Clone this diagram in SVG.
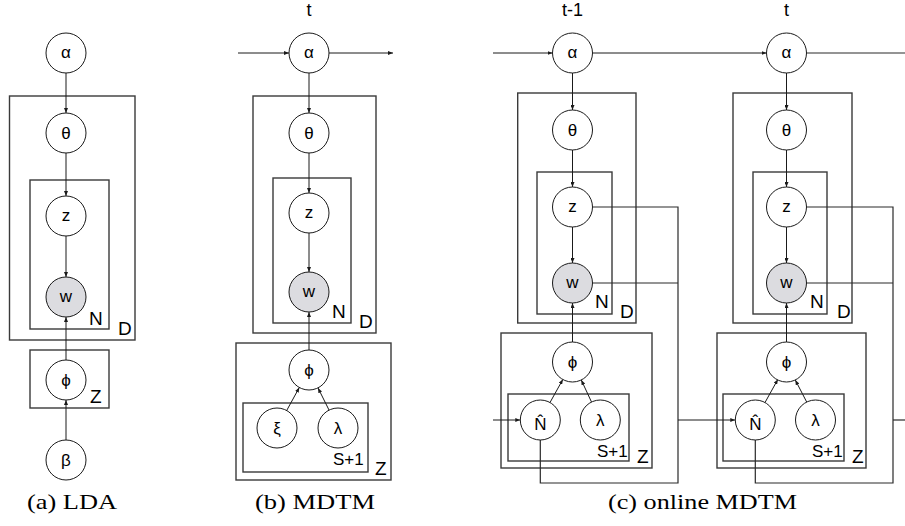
<svg xmlns="http://www.w3.org/2000/svg" width="905" height="526" viewBox="0 0 905 526">
<defs>
<style>
.bg{fill:#fff}
.plate{fill:none;stroke:#3a3a3a;stroke-width:1.4}
.node circle{fill:#fff;stroke:#1a1a1a;stroke-width:1}
.node.obs circle{fill:#dcdce0}
.node text{font-family:"Liberation Sans","DejaVu Sans",sans-serif;font-size:17px;text-anchor:middle;fill:#000}
.lbl{font-family:"Liberation Sans",Arial,sans-serif;font-size:19px;fill:#000}
.lbs{font-family:"Liberation Sans",Arial,sans-serif;font-size:17px;fill:#000}
.top{font-family:"Liberation Sans",Arial,sans-serif;font-size:18px;text-anchor:middle;fill:#000}
.cap{font-family:"Liberation Serif","Times New Roman",serif;font-size:22px;fill:#000}
.e{fill:none;stroke:#1a1a1a;stroke-width:1;marker-end:url(#ah)}
.l{fill:none;stroke:#2a2a2a;stroke-width:1.2}
</style>
<marker id="ah" viewBox="0 0 10 8" refX="10" refY="4" markerWidth="5" markerHeight="4" markerUnits="userSpaceOnUse" orient="auto">
<path d="M0,0 L10,4 L0,8 z" fill="#1a1a1a"/>
</marker>
</defs>
<rect class="bg" x="0" y="0" width="905" height="526"/>

<g id="plates">
<rect class="plate" x="9.5" y="96" width="125.5" height="244"/>
<rect class="plate" x="30" y="180" width="79" height="149"/>
<rect class="plate" x="30" y="350" width="79" height="58"/>
<rect class="plate" x="253" y="96" width="123" height="237"/>
<rect class="plate" x="273" y="178" width="78" height="145"/>
<rect class="plate" x="236" y="343" width="155" height="137"/>
<rect class="plate" x="243" y="403" width="125" height="69"/>
<rect class="plate" x="517.7" y="93" width="118.3" height="230"/>
<rect class="plate" x="537" y="172" width="75" height="142"/>
<rect class="plate" x="501" y="333" width="151" height="135"/>
<rect class="plate" x="508" y="394" width="121" height="67"/>
<rect class="plate" x="733" y="93" width="119" height="230"/>
<rect class="plate" x="753" y="172" width="74" height="142"/>
<rect class="plate" x="717" y="333" width="149" height="135"/>
<rect class="plate" x="723" y="394" width="121" height="67"/>
</g>

<g id="plate-labels">
<text class="lbl" x="89" y="325">N</text>
<text class="lbl" x="118" y="335">D</text>
<text class="lbl" x="90" y="403">Z</text>
<text class="lbl" x="332" y="318">N</text>
<text class="lbl" x="359" y="328">D</text>
<text class="lbs" x="333" y="465">S+1</text>
<text class="lbl" x="375" y="475">Z</text>
<text class="lbl" x="595" y="308">N</text>
<text class="lbl" x="620" y="318">D</text>
<text class="lbs" x="597" y="457">S+1</text>
<text class="lbl" x="637" y="463">Z</text>
<text class="lbl" x="810" y="308">N</text>
<text class="lbl" x="837" y="318">D</text>
<text class="lbs" x="812" y="457">S+1</text>
<text class="lbl" x="852" y="463">Z</text>
<text class="top" x="309" y="16">t</text>
<text class="top" x="572.5" y="16">t-1</text>
<text class="top" x="786.5" y="16">t</text>
</g>

<g id="connectors">
<line class="e" x1="66" y1="73" x2="66" y2="113"/>
<line class="e" x1="66" y1="153" x2="66" y2="196"/>
<line class="e" x1="66" y1="236" x2="66" y2="277"/>
<line class="e" x1="66" y1="360" x2="66" y2="317"/>
<line class="e" x1="66" y1="440" x2="66" y2="400"/>
<line class="e" x1="238" y1="53" x2="289" y2="53"/>
<line class="e" x1="329" y1="53" x2="393" y2="53"/>
<line class="e" x1="309" y1="73" x2="309" y2="113"/>
<line class="e" x1="309" y1="153" x2="309" y2="193"/>
<line class="e" x1="309" y1="233" x2="309" y2="272"/>
<line class="e" x1="309" y1="350" x2="309" y2="312"/>
<line class="e" x1="286.7" y1="410.5" x2="299.3" y2="387.5"/>
<line class="e" x1="329" y1="410" x2="318" y2="387.9"/>
<line class="e" x1="493" y1="53" x2="552.5" y2="53"/>
<line class="e" x1="592.5" y1="53" x2="766.5" y2="53"/>
<line class="e" x1="572.5" y1="73" x2="572.5" y2="110"/>
<line class="e" x1="572.5" y1="150" x2="572.5" y2="187"/>
<line class="e" x1="572.5" y1="227" x2="572.5" y2="263"/>
<line class="e" x1="572.5" y1="342" x2="572.5" y2="303"/>
<line class="e" x1="550" y1="402.5" x2="562.8" y2="379.5"/>
<line class="e" x1="591.5" y1="402" x2="581.3" y2="380"/>
<line class="e" x1="493" y1="420" x2="520.3" y2="420"/>
<polyline class="l" points="592.5,207 678,207 678,483 540.3,483 540.3,440"/>
<line class="l" x1="592.5" y1="283" x2="678" y2="283"/>
<line class="e" x1="678" y1="420" x2="735.3" y2="420"/>
<line class="l" x1="806.5" y1="53" x2="905" y2="53"/>
<line class="e" x1="786.5" y1="73" x2="786.5" y2="110"/>
<line class="e" x1="786.5" y1="150" x2="786.5" y2="187"/>
<line class="e" x1="786.5" y1="227" x2="786.5" y2="263"/>
<line class="e" x1="786.5" y1="342" x2="786.5" y2="303"/>
<line class="e" x1="765" y1="402.5" x2="777.8" y2="379.5"/>
<line class="e" x1="806.7" y1="402" x2="795.3" y2="380"/>
<polyline class="l" points="806.5,207 893,207 893,483 755.3,483 755.3,440"/>
<line class="l" x1="806.5" y1="283" x2="893" y2="283"/>
<line class="l" x1="893" y1="420" x2="905" y2="420"/>
</g>

<g id="a-alpha" class="node"><circle cx="66" cy="53" r="20"/><text x="66" y="58">α</text></g>
<g id="a-theta" class="node"><circle cx="66" cy="133" r="20"/><text x="66" y="139">θ</text></g>
<g id="a-z" class="node"><circle cx="66" cy="216" r="20"/><text x="66" y="221">z</text></g>
<g id="a-w" class="node obs"><circle cx="66" cy="297" r="20"/><text x="66" y="302">w</text></g>
<g id="a-phi" class="node"><circle cx="66" cy="380" r="20"/><text x="66" y="386">ϕ</text></g>
<g id="a-beta" class="node"><circle cx="66" cy="460" r="20"/><text x="66" y="466">β</text></g>

<g id="b-alpha" class="node"><circle cx="309" cy="53" r="20"/><text x="309" y="58">α</text></g>
<g id="b-theta" class="node"><circle cx="309" cy="133" r="20"/><text x="309" y="139">θ</text></g>
<g id="b-z" class="node"><circle cx="309" cy="213" r="20"/><text x="309" y="218">z</text></g>
<g id="b-w" class="node obs"><circle cx="309" cy="292" r="20"/><text x="309" y="297">w</text></g>
<g id="b-phi" class="node"><circle cx="309" cy="370" r="20"/><text x="309" y="376">ϕ</text></g>
<g id="b-xi" class="node"><circle cx="277" cy="428" r="20"/><text x="277" y="434">ξ</text></g>
<g id="b-lambda" class="node"><circle cx="338" cy="428" r="20"/><text x="338" y="434">λ</text></g>

<g id="c1-alpha" class="node"><circle cx="572.5" cy="53" r="20"/><text x="572.5" y="58">α</text></g>
<g id="c1-theta" class="node"><circle cx="572.5" cy="130" r="20"/><text x="572.5" y="136">θ</text></g>
<g id="c1-z" class="node"><circle cx="572.5" cy="207" r="20"/><text x="572.5" y="212">z</text></g>
<g id="c1-w" class="node obs"><circle cx="572.5" cy="283" r="20"/><text x="572.5" y="288">w</text></g>
<g id="c1-phi" class="node"><circle cx="572.5" cy="362" r="20"/><text x="572.5" y="368">ϕ</text></g>
<g id="c1-nhat" class="node"><circle cx="540.3" cy="420" r="20"/><text x="540.3" y="430">N̂</text></g>
<g id="c1-lambda" class="node"><circle cx="600.3" cy="420" r="20"/><text x="600.3" y="426">λ</text></g>

<g id="c2-alpha" class="node"><circle cx="786.5" cy="53" r="20"/><text x="786.5" y="58">α</text></g>
<g id="c2-theta" class="node"><circle cx="786.5" cy="130" r="20"/><text x="786.5" y="136">θ</text></g>
<g id="c2-z" class="node"><circle cx="786.5" cy="207" r="20"/><text x="786.5" y="212">z</text></g>
<g id="c2-w" class="node obs"><circle cx="786.5" cy="283" r="20"/><text x="786.5" y="288">w</text></g>
<g id="c2-phi" class="node"><circle cx="786.5" cy="362" r="20"/><text x="786.5" y="368">ϕ</text></g>
<g id="c2-nhat" class="node"><circle cx="755.3" cy="420" r="20"/><text x="755.3" y="430">N̂</text></g>
<g id="c2-lambda" class="node"><circle cx="815.5" cy="420" r="20"/><text x="815.5" y="426">λ</text></g>

<g id="captions">
<text class="cap" x="27" y="509" textLength="90" lengthAdjust="spacingAndGlyphs">(a) LDA</text>
<text class="cap" x="255" y="509" textLength="120" lengthAdjust="spacingAndGlyphs">(b) MDTM</text>
<text class="cap" x="608" y="509" textLength="189" lengthAdjust="spacingAndGlyphs">(c) online MDTM</text>
</g>
</svg>
